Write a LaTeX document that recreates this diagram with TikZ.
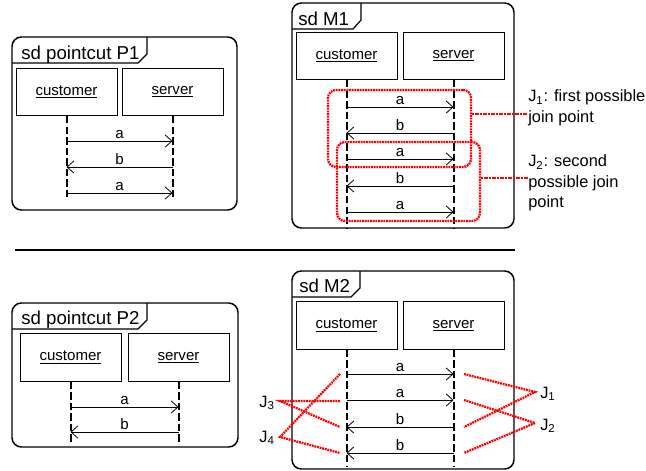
\documentclass[tikz,border=0pt]{standalone}
\usepackage{fontspec}
\setmainfont{Liberation Sans}
\usetikzlibrary{arrows.meta}
\begin{document}
\begin{tikzpicture}[x=0.75pt,y=-0.75pt,
  frame/.style={draw, line width=1.1pt, rounded corners=7pt},
  tabline/.style={draw, line width=0.9pt},
  title/.style={anchor=base west, inner sep=0pt, font=\fontsize{14}{16}\selectfont},
  lifebox/.style={draw, line width=0.7pt, inner sep=0pt, minimum width=75.75pt, minimum height=35.5pt, font=\fontsize{11.3}{13}\selectfont},
  lifeline/.style={draw, line width=1.5pt, dash pattern=on 5.5pt off 2.4pt},
  msg/.style={draw, line width=0.6pt, -{Straight Barb[length=5pt,width=9pt,line width=0.6pt]}},
  lbl/.style={above, inner sep=1.8pt, font=\fontsize{11.3}{13}\selectfont},
  jbox/.style={draw=red, line width=1.7pt, dash pattern=on 1.4pt off 0.6pt, rounded corners=6pt, inner sep=0pt},
  jline/.style={draw=red, line width=1.7pt, dash pattern=on 1.4pt off 0.6pt},
  jtext/.style={inner sep=0pt, font=\fontsize{12.3}{15.5}\selectfont, align=left},
  sep/.style={draw, line width=1.3pt}
]
\useasboundingbox (0,0) rectangle (646,471);

% ---------------- P1 ----------------
\draw[frame] (12,37) rectangle (237,210);
\draw[tabline] (12,63) -- (138,63) -- (147,54) -- (147,37);
\node[title] (p1t) at (21,59) {sd pointcut P1};
\node[lifebox] (p1c) at (66.5,92) {\underline{customer}};
\node[lifebox] (p1s) at (172.5,92) {\underline{server}};
\coordinate (p1ce) at (p1c.south |- 0,199);
\coordinate (p1se) at (p1s.south |- 0,199);
\draw[lifeline] (p1c.south) -- (p1ce);
\draw[lifeline] (p1s.south) -- (p1se);
\draw[msg] (p1c |- 0,141) -- node[lbl]{a} (p1s |- 0,141);
\draw[msg] (p1s |- 0,167) -- node[lbl]{b} (p1c |- 0,167);
\draw[msg] (p1c |- 0,193) -- node[lbl]{a} (p1s |- 0,193);

% ---------------- M1 ----------------
\draw[frame] (292,3) rectangle (514,228);
\draw[tabline] (292,29) -- (353,29) -- (361,20) -- (361,3);
\node[title] (m1t) at (298,25) {sd M1};
\node[lifebox] (m1c) at (346.5,56) {\underline{customer}};
\node[lifebox] (m1s) at (453.5,56) {\underline{server}};
\coordinate (m1ce) at (m1c.south |- 0,228);
\coordinate (m1se) at (m1s.south |- 0,228);
\draw[lifeline] (m1c.south) -- (m1ce);
\draw[lifeline] (m1s.south) -- (m1se);
\draw[msg] (m1c |- 0,107) -- node[lbl]{a} (m1s |- 0,107);
\draw[msg] (m1s |- 0,133) -- node[lbl]{b} (m1c |- 0,133);
\draw[msg] (m1c |- 0,159) -- node[lbl]{a} (m1s |- 0,159);
\draw[msg] (m1s |- 0,186) -- node[lbl]{b} (m1c |- 0,186);
\draw[msg] (m1c |- 0,212) -- node[lbl]{a} (m1s |- 0,212);

\node[jbox, minimum width=107.25pt, minimum height=57.75pt] (j1box) at (399.5,128.5) {};
\node[jbox, minimum width=107.25pt, minimum height=59.25pt] (j2box) at (408.5,181.5) {};
\node[jtext, anchor=west] (j1t) at (528,108) {J\textsubscript{1}: first possible\\join point};
\node[jtext, anchor=west] (j2t) at (528,183) {J\textsubscript{2}: second\\possible join\\point};
\draw[jline] (j1box.east |- 0,114) -- (j1t.west |- 0,114);
\draw[jline] (j2box.east |- 0,178) -- (j2t.west |- 0,178);

% ---------------- separator ----------------
\coordinate (sepl) at (15,250);
\coordinate (sepr) at (515,250);
\draw[sep] (sepl) -- (sepr);

% ---------------- P2 ----------------
\draw[frame] (12,303) rectangle (238,447);
\draw[tabline] (12,329) -- (138,329) -- (147,320) -- (147,303);
\node[title] (p2t) at (21,324) {sd pointcut P2};
\node[lifebox] (p2c) at (70.5,357.5) {\underline{customer}};
\node[lifebox] (p2s) at (178.5,357.5) {\underline{server}};
\coordinate (p2ce) at (p2c.south |- 0,443);
\coordinate (p2se) at (p2s.south |- 0,443);
\draw[lifeline] (p2c.south) -- (p2ce);
\draw[lifeline] (p2s.south) -- (p2se);
\draw[msg] (p2c |- 0,407) -- node[lbl]{a} (p2s |- 0,407);
\draw[msg] (p2s |- 0,432) -- node[lbl]{b} (p2c |- 0,432);

% ---------------- M2 ----------------
\draw[frame] (292,271) rectangle (514,469);
\draw[tabline] (292,297) -- (351,297) -- (360,288) -- (360,271);
\node[title] (m2t) at (299,292) {sd M2};
\node[lifebox] (m2c) at (346.5,325.5) {\underline{customer}};
\node[lifebox] (m2s) at (453.5,325.5) {\underline{server}};
\coordinate (m2ce) at (m2c.south |- 0,467);
\coordinate (m2se) at (m2s.south |- 0,467);
\draw[lifeline] (m2c.south) -- (m2ce);
\draw[lifeline] (m2s.south) -- (m2se);
\draw[msg] (m2c |- 0,374) -- node[lbl]{a} (m2s |- 0,374);
\draw[msg] (m2c |- 0,400) -- node[lbl]{a} (m2s |- 0,400);
\draw[msg] (m2s |- 0,427) -- node[lbl]{b} (m2c |- 0,427);
\draw[msg] (m2s |- 0,453) -- node[lbl]{b} (m2c |- 0,453);

% join-point labels
\node[jtext, anchor=east] (j3) at (275,403) {J\textsubscript{3}};
\node[jtext, anchor=east] (j4) at (275,438) {J\textsubscript{4}};
\node[jtext, anchor=west] (mj1) at (540,394) {J\textsubscript{1}};
\node[jtext, anchor=west] (mj2) at (540,426) {J\textsubscript{2}};
\coordinate (j3p) at (280,401);
\coordinate (j4p) at (280,437);
\coordinate (mj1p) at (535,392);
\coordinate (mj2p) at (535,423);
\coordinate (la1) at (340,374);
\coordinate (la2) at (340,401);
\coordinate (lb1) at (340,427);
\coordinate (lb2) at (340,453);
\coordinate (ra1) at (464,374);
\coordinate (ra2) at (464,400);
\coordinate (rb1) at (464,427);
\coordinate (rb2) at (464,453);
\draw[jline] (la2) -- (j3p) -- (lb1);
\draw[jline] (la1) -- (j4p) -- (lb2);
\draw[jline] (ra1) -- (mj1p) -- (rb1);
\draw[jline] (ra2) -- (mj2p) -- (rb2);
\end{tikzpicture}
\end{document}
